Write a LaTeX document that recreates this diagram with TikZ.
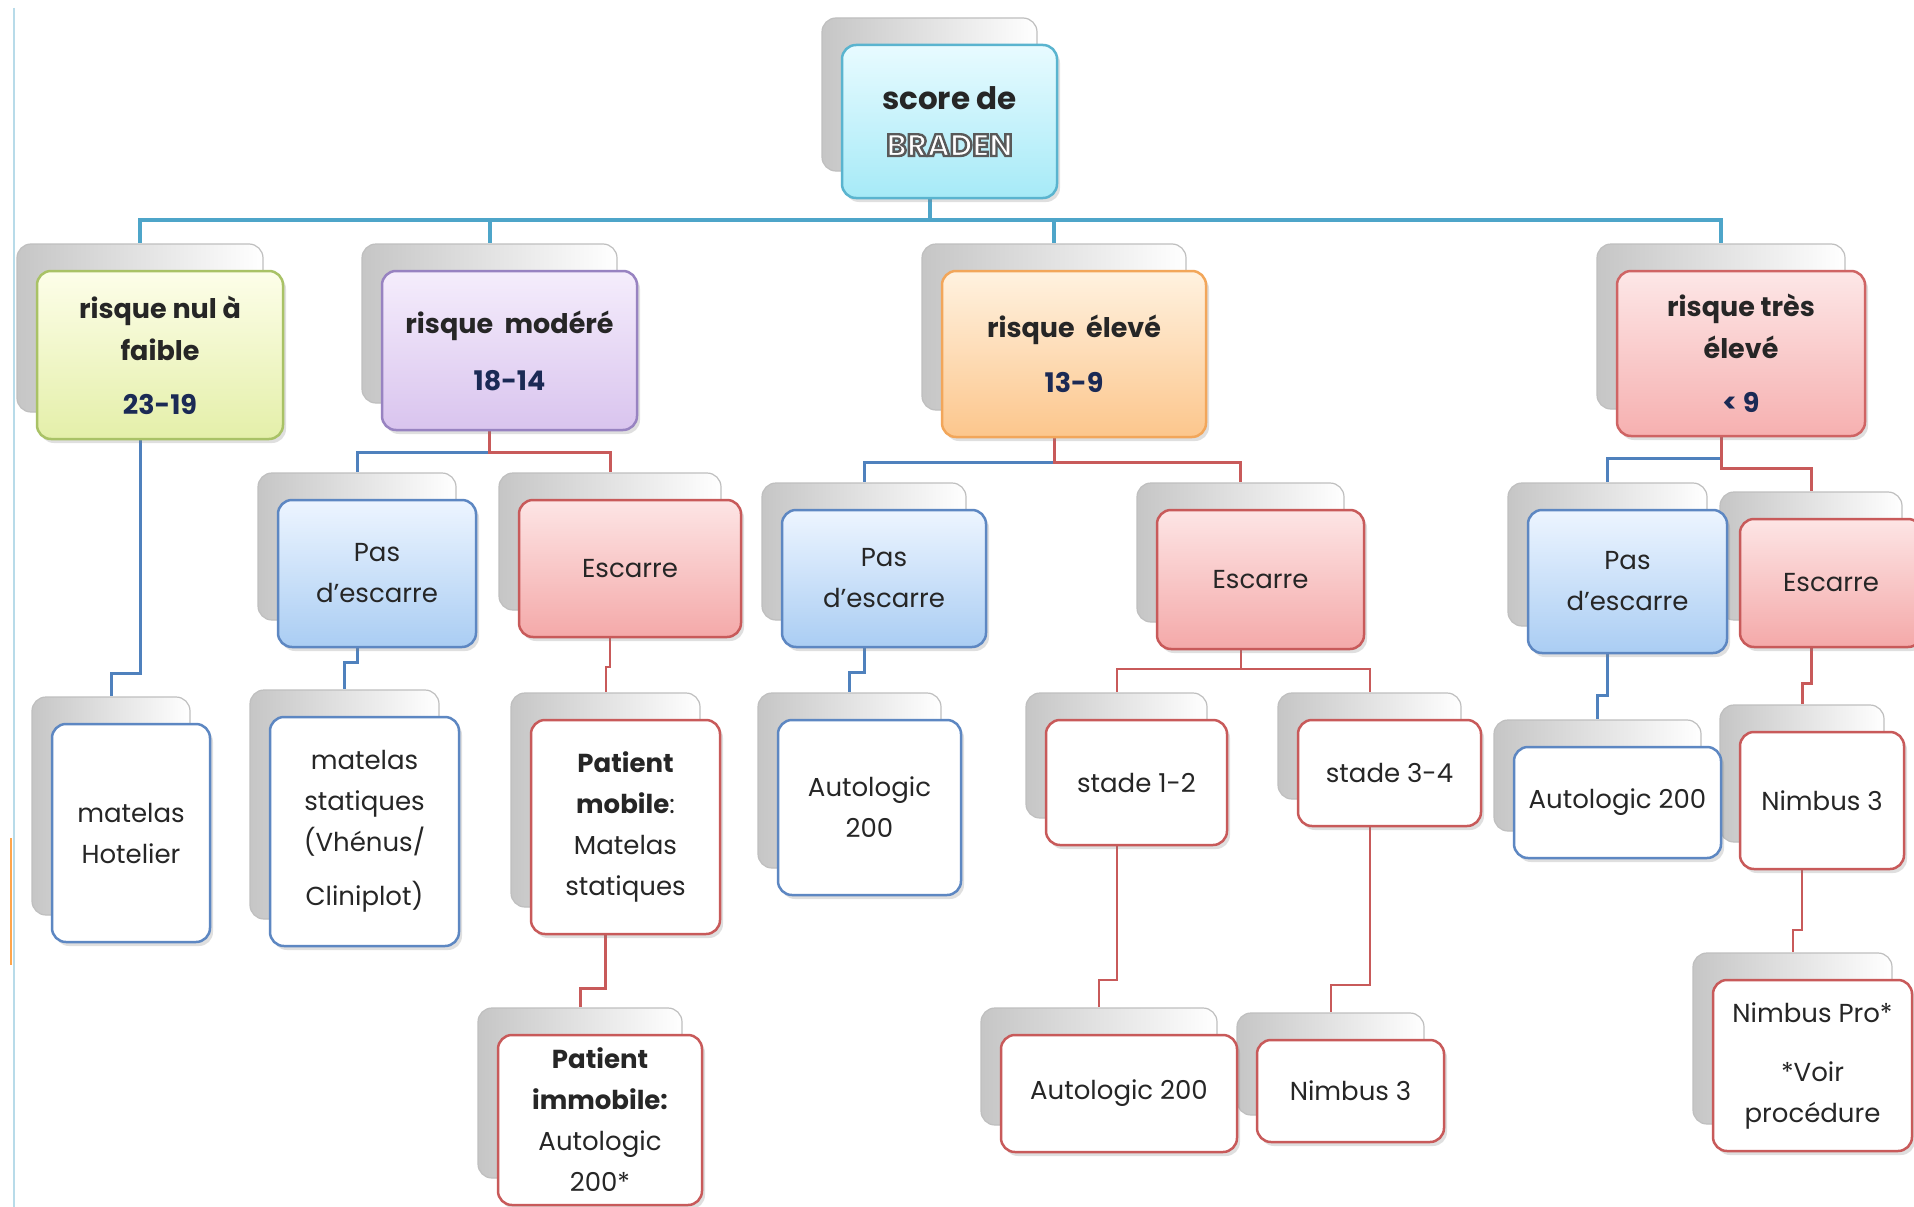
\documentclass[tikz,border=0pt]{standalone}
\usepackage{fontspec}
\setmainfont{Poppins}
\usepackage{xcolor}
\usetikzlibrary{shadows}

\definecolor{cTronc}{HTML}{4EA5C9}
\definecolor{cBleu}{HTML}{4F81BD}
\definecolor{cRouge}{HTML}{C85A5A}
\definecolor{cChiffre}{HTML}{1B2A55}
\definecolor{cRacineBord}{HTML}{5AB4CF}
\definecolor{cRacineHaut}{HTML}{E8FBFF}
\definecolor{cRacineBas}{HTML}{A6EAF7}

\pgfdeclarelayer{fond}
\pgfdeclarelayer{dos}
\pgfsetlayers{fond,dos,main}

\newcommand{\chiffre}[1]{\textcolor{cChiffre}{#1}}
% texte blanc au contour gris
\newcommand{\creux}[1]{\textcolor{white}{\special{pdf:literal direct 2 Tr 0.35 G 2.4 w}#1\special{pdf:literal direct 0 Tr}}}

\tikzset{
    dos/.style={rounded corners=14pt, draw=gray!50, line width=1.2pt, left color=gray!45, middle color=white!97!gray, right color=white},
    carte/.style={rounded corners=14pt, line width=2.5pt, inner sep=0pt, align=center, text=black!85,
        drop shadow={opacity=0.25, shadow xshift=3pt, shadow yshift=-4pt}},
    racine/.style={draw=cRacineBord, top color=cRacineHaut, bottom color=cRacineBas},
    titre/.style={font=\fontsize{27}{42}\selectfont\bfseries},
    texte/.style={font=\fontsize{26}{41}\selectfont},
    tronc/.style={draw=cTronc, line width=4pt},
    lienbleu/.style={draw=cBleu, line width=3pt},
    lienrouge/.style={draw=cRouge, line width=3pt},
    fin/.style={line width=2pt},
    vert/.style={draw={rgb,255:red,169;green,194;blue,102}, top color={rgb,255:red,253;green,254;blue,233}, bottom color={rgb,255:red,228;green,239;blue,169}},
    violet/.style={draw={rgb,255:red,152;green,131;blue,193}, top color={rgb,255:red,245;green,237;blue,252}, bottom color={rgb,255:red,217;green,196;blue,238}},
    orange/.style={draw={rgb,255:red,242;green,166;blue,90}, top color={rgb,255:red,255;green,242;blue,224}, bottom color={rgb,255:red,252;green,198;blue,140}},
    rose/.style={draw={rgb,255:red,207;green,100;blue,100}, top color={rgb,255:red,253;green,231;blue,231}, bottom color={rgb,255:red,246;green,176;blue,176}},
    bleu/.style={draw={rgb,255:red,93;green,135;blue,194}, top color={rgb,255:red,237;green,245;blue,255}, bottom color={rgb,255:red,170;green,205;blue,243}},
    rouge/.style={draw=cRouge, top color={rgb,255:red,253;green,229;blue,229}, bottom color={rgb,255:red,244;green,169;blue,169}},
    feuillebleue/.style={draw={rgb,255:red,93;green,135;blue,194}, fill=white},
    feuillerouge/.style={draw=cRouge, fill=white}
}

% carte : nom, x, y, largeur, hauteur, style, texte
\newcommand{\carte}[7]{%
    \begin{pgfonlayer}{dos}
        \node[dos, minimum width=#4pt, minimum height=#5pt] (#1-b) at ({#2-20},{#3-27}) {};
    \end{pgfonlayer}
    \node[#6, minimum width=#4pt, minimum height=#5pt] (#1) at (#2,#3) {#7};
}

\begin{document}
\begin{tikzpicture}[x=1pt, y=-1pt]
            \useasboundingbox (0,0) rectangle (1914,1207);

            % niveau 0 et 1
            \carte{score}{949.5}{121.5}{215}{153}{carte, racine, font=\fontsize{31}{46}\selectfont\bfseries}{score de\\\creux{BRADEN}}
            \carte{nul}{160}{355}{246}{168}{carte, vert, titre}{risque nul à\\faible\\[12pt]\chiffre{23-19}}
            \carte{mod}{509.5}{350.5}{255}{159}{carte, violet, titre}{risque\ \ modéré\\[15pt]\chiffre{18-14}}
            \carte{elev}{1074}{354}{264}{166}{carte, orange, titre}{risque\ \ élevé\\[13pt]\chiffre{13-9}}
            \carte{tres}{1741}{353.5}{248}{165}{carte, rose, titre}{risque très\\élevé\\[12pt]\chiffre{< 9}}

            % niveau 2
            \carte{mod-pas}{377}{573.5}{198}{147}{carte, bleu, texte}{Pas\\d'escarre}
            \carte{mod-esc}{630}{568.5}{222}{137}{carte, rouge, texte}{Escarre}
            \carte{elev-pas}{884}{578.5}{204}{137}{carte, bleu, texte}{Pas\\d'escarre}
            \carte{elev-esc}{1260.5}{579.5}{207}{139}{carte, rouge, texte}{Escarre}
            \carte{tres-pas}{1627.5}{581.5}{199}{143}{carte, bleu, texte}{Pas\\d'escarre}
            \carte{tres-esc}{1831}{583}{182}{128}{carte, rouge, texte}{Escarre}

            % niveau 3 et 4
            \carte{hotel}{131}{833}{158}{218}{carte, feuillebleue, texte}{matelas\\Hotelier}
            \carte{stat}{364.5}{831.5}{189}{229}{carte, feuillebleue, texte}{matelas\\statiques\\(Vhénus/\\[13pt]Cliniplot)}
            \carte{mobile}{625.5}{827}{189}{214}{carte, feuillerouge, texte}{\textbf{Patient}\\\textbf{mobile}:\\Matelas\\statiques}
            \carte{immobile}{600}{1120}{204}{170}{carte, feuillerouge, texte}{\textbf{Patient}\\\textbf{immobile:}\\Autologic\\200*}
            \carte{elev-auto}{869.5}{807.5}{183}{175}{carte, feuillebleue, texte}{Autologic\\200}
            \carte{stade12}{1136.5}{782.5}{181}{125}{carte, feuillerouge, texte}{stade 1-2}
            \carte{stade34}{1389.5}{773}{183}{106}{carte, feuillerouge, texte}{stade 3-4}
            \carte{auto12}{1119}{1093.5}{236}{117}{carte, feuillerouge, texte}{Autologic 200}
            \carte{nimbus34}{1350.5}{1091}{187}{102}{carte, feuillerouge, texte}{Nimbus 3}
            \carte{tres-auto}{1617.5}{802.5}{207}{111}{carte, feuillebleue, texte}{Autologic 200}
            \carte{tres-nimbus}{1822}{800.5}{164}{137}{carte, feuillerouge, texte}{Nimbus 3}
            \carte{pro}{1812.5}{1065.5}{199}{171}{carte, feuillerouge, texte}{Nimbus Pro*\\[18pt]*Voir\\procédure}

            \begin{pgfonlayer}{fond}
                \fill[white] (0,0) rectangle (1914,1207);
                \draw[cTronc!40, line width=2pt] (14,8) -- (14,1207);
                \draw[orange!70, line width=1.5pt] (11,838) -- (11,965);
                % liens
                \foreach \c in {nul,mod,elev,tres}
                    \draw[tronc] (score-b.south) -- (score-b.south |- 0,220) -| (\c-b.north);
                \draw[lienbleu] (nul-b.south) -- (nul-b.south |- 0,673) -| (hotel-b.north);
                \draw[lienbleu] (mod-b.south) -- (mod-b.south |- 0,452) -| (mod-pas-b.north);
                \draw[lienrouge] (mod-b.south) -- (mod-b.south |- 0,452) -| (mod-esc-b.north);
                \draw[lienbleu] (elev-b.south) -- (elev-b.south |- 0,462) -| (elev-pas-b.north);
                \draw[lienrouge] (elev-b.south) -- (elev-b.south |- 0,462) -| (elev-esc-b.north);
                \draw[lienbleu] (tres-b.south) -- (tres-b.south |- 0,458) -| (tres-pas-b.north);
                \draw[lienrouge] (tres-b.south) -- (tres-b.south |- 0,468) -| (tres-esc-b.north);
                \draw[lienbleu] (mod-pas-b.south) -- (mod-pas-b.south |- 0,662) -| (stat-b.north);
                \draw[lienrouge, fin] (mod-esc-b.south) -- (mod-esc-b.south |- 0,667) -| (mobile-b.north);
                \draw[lienrouge] (mobile-b.south) -- (mobile-b.south |- 0,988) -| (immobile-b.north);
                \draw[lienbleu] (elev-pas-b.south) -- (elev-pas-b.south |- 0,672) -| (elev-auto-b.north);
                \draw[lienrouge, fin] (elev-esc-b.south) -- (elev-esc-b.south |- 0,669) -| (stade12-b.north);
                \draw[lienrouge, fin] (elev-esc-b.south) -- (elev-esc-b.south |- 0,669) -| (stade34-b.north);
                \draw[lienrouge, fin] (stade12-b.south) -- (stade12-b.south |- 0,980) -| (auto12-b.north);
                \draw[lienrouge, fin] (stade34-b.south) -- (stade34-b.south |- 0,985) -| (nimbus34-b.north);
                \draw[lienbleu] (tres-pas-b.south) -- (tres-pas-b.south |- 0,695) -| (tres-auto-b.north);
                \draw[lienrouge] (tres-esc-b.south) -- (tres-esc-b.south |- 0,683) -| (tres-nimbus-b.north);
                \draw[lienrouge, fin] (tres-nimbus-b.south) -- (tres-nimbus-b.south |- 0,930) -| (pro-b.north);
            \end{pgfonlayer}
\end{tikzpicture}
\end{document}
